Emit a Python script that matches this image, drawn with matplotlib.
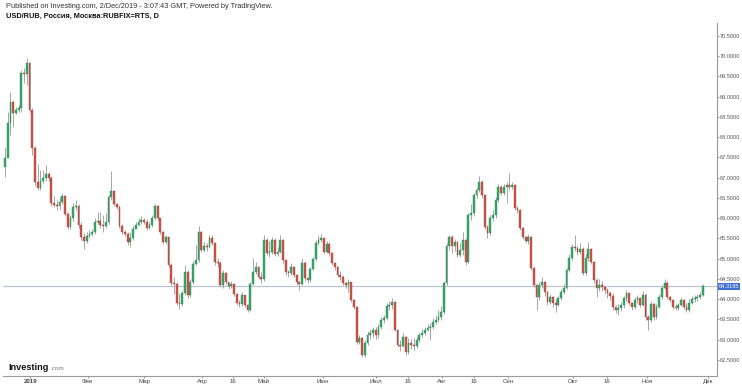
import matplotlib.pyplot as plt
import numpy as np

plt.rcParams['font.family'] = ['Liberation Sans', 'DejaVu Sans']

# USD/RUB daily candles (open = previous close)
first_open = 67.27
closes = [
    67.49, 68.35, 68.87, 68.60, 68.67, 68.72, 69.59, 69.56, 69.83, 68.67,
    67.73, 66.90, 66.75, 66.92, 66.99, 67.09, 66.99, 66.38, 66.33, 66.30,
    66.40, 66.55, 66.10, 65.78, 66.01, 66.28, 66.30, 65.83, 65.54, 65.44,
    65.56, 65.61, 65.66, 65.91, 65.93, 65.83, 65.81, 65.91, 66.52, 66.67,
    66.35, 66.28, 65.81, 65.66, 65.61, 65.41, 65.51, 65.73, 65.83, 65.91,
    65.96, 65.91, 65.76, 65.83, 66.01, 66.30, 66.01, 65.66, 65.41, 65.54,
    64.85, 64.40, 64.38, 63.91, 63.88, 64.15, 64.67, 64.11, 64.43, 64.87,
    64.97, 65.66, 65.22, 65.31, 65.29, 65.51, 65.39, 64.92, 64.90, 64.35,
    64.65, 64.43, 64.33, 64.38, 64.13, 63.91, 63.88, 64.11, 63.86, 63.73,
    64.38, 64.67, 64.80, 64.55, 64.50, 65.46, 65.14, 65.17, 65.46, 65.12,
    65.17, 65.46, 64.97, 64.67, 64.65, 64.80, 64.60, 64.43, 64.38, 64.90,
    64.52, 64.48, 64.75, 64.99, 65.39, 65.46, 65.51, 65.17, 65.36, 65.14,
    64.90, 64.80, 64.60, 64.55, 64.40, 64.35, 64.43, 63.98, 63.81, 62.94,
    63.04, 62.62, 62.92, 63.12, 63.17, 63.24, 63.12, 63.32, 63.49, 63.54,
    63.83, 63.86, 63.93, 63.24, 62.87, 62.85, 63.07, 62.70, 62.92, 62.87,
    62.85, 62.99, 63.12, 63.17, 63.24, 63.29, 63.32, 63.44, 63.49, 63.56,
    63.69, 64.40, 65.31, 65.54, 65.31, 65.41, 65.09, 65.22, 65.46, 64.92,
    66.08, 66.13, 66.57, 66.70, 66.90, 66.57, 65.78, 65.64, 66.01, 66.08,
    66.45, 66.77, 66.62, 66.77, 66.82, 66.77, 66.82, 66.25, 66.20, 65.76,
    65.54, 65.44, 65.54, 64.77, 64.35, 64.06, 64.35, 64.43, 64.18, 63.93,
    64.06, 63.91,
    63.86, 64.03, 64.18, 64.28, 64.72, 65.02, 65.29, 65.27, 65.17, 65.24,
    64.65, 65.02, 65.24, 64.92, 64.48, 64.28, 64.35, 64.30, 64.23, 64.15,
    64.08, 63.81, 63.73, 63.78, 63.86, 64.03, 64.15, 63.91, 63.81, 63.98,
    64.03, 63.86, 64.11, 63.56, 63.49, 63.88, 63.56, 63.81, 64.06, 64.28,
    64.40, 64.06, 63.98, 63.81, 63.78, 63.86, 63.98, 63.81, 63.73, 63.91,
    64.01, 64.03, 64.06, 64.11, 64.32,
]
highs = [
    67.76, 68.62, 69.12, 68.92, 68.75, 68.80, 69.66, 69.71, 69.96, 69.86,
    68.72, 67.78, 67.34, 67.19, 67.19, 67.31, 67.14, 67.04, 66.55, 66.45,
    66.52, 66.62, 66.57, 66.15, 66.08, 66.38, 66.45, 66.35, 65.91, 65.64,
    65.66, 65.71, 65.73, 66.01, 66.15, 66.15, 66.08, 66.13, 66.57, 67.17,
    66.70, 66.38, 66.33, 65.86, 65.71, 65.66, 65.66, 65.81, 65.91, 66.01,
    66.06, 66.01, 65.98, 65.91, 66.08, 66.35, 66.33, 66.01, 65.69, 65.59,
    65.56, 64.88, 64.55, 64.43, 64.13, 64.20, 64.85, 64.72, 64.50, 64.95,
    65.34, 65.81, 65.69, 65.41, 65.39, 65.59, 65.59, 65.41, 65.02, 64.95,
    64.72, 64.67, 64.43, 64.45, 64.40, 64.15, 63.98, 64.18, 64.11, 63.88,
    64.43, 65.02, 64.92, 64.82, 64.67, 65.59, 65.51, 65.44, 65.54, 65.51,
    65.29, 65.59, 65.49, 64.99, 64.72, 64.90, 64.82, 64.62, 64.45, 65.02,
    64.95, 64.55, 64.80, 65.04, 65.46, 65.59, 65.61, 65.51, 65.44, 65.41,
    65.17, 64.92, 64.82, 64.70, 64.60, 64.43, 64.50, 64.43, 64.01, 63.83,
    63.12, 63.07, 62.99, 63.20, 63.27, 63.32, 63.32, 63.39, 63.56, 63.61,
    63.91, 63.96, 64.03, 63.96, 63.27, 62.99, 63.17, 63.10, 63.04, 63.02,
    63.04, 63.07, 63.17, 63.27, 63.32, 63.39, 63.42, 63.54, 63.61, 63.73,
    63.83, 64.45, 65.39, 65.59, 65.59, 65.49, 65.44, 65.39, 65.66, 65.49,
    66.13, 66.35, 66.62, 66.75, 67.04, 66.95, 66.60, 65.83, 66.08, 66.20,
    66.52, 66.85, 66.82, 66.85, 66.90, 67.12, 66.90, 66.85, 66.30, 66.23,
    65.78, 65.56, 65.61, 65.56, 64.80, 64.38, 64.43, 64.55, 64.45, 64.20,
    64.13, 64.08,
    64.01, 64.08, 64.25, 64.38, 64.77, 65.12, 65.36, 65.59, 65.31, 65.39,
    65.29, 65.12, 65.41, 65.27, 64.95, 64.52, 64.50, 64.45, 64.33, 64.28,
    64.20, 64.15, 63.86, 63.88, 63.93, 64.08, 64.23, 64.15, 63.93, 64.06,
    64.11, 64.06, 64.20, 64.15, 63.61, 63.96, 63.91, 63.88, 64.13, 64.35,
    64.50, 64.45, 64.08, 64.01, 63.88, 63.91, 64.06, 64.01, 63.91, 64.01,
    64.08, 64.11, 64.13, 64.18, 64.38,
]
lows = [
    67.02, 67.93, 68.06, 68.25, 68.57, 68.62, 68.62, 69.34, 69.29, 68.62,
    67.56, 66.80, 66.70, 66.70, 66.87, 66.92, 66.92, 66.30, 66.28, 66.20,
    66.20, 66.35, 66.06, 65.73, 65.73, 65.93, 66.20, 65.76, 65.46, 65.24,
    65.39, 65.51, 65.56, 65.61, 65.86, 65.76, 65.66, 65.76, 65.86, 66.45,
    66.30, 66.23, 65.76, 65.61, 65.56, 65.34, 65.29, 65.46, 65.78, 65.81,
    65.86, 65.86, 65.71, 65.73, 65.78, 65.96, 65.96, 65.61, 65.36, 65.36,
    64.80, 64.35, 64.13, 63.86, 63.76, 63.83, 64.10, 64.03, 64.06, 64.38,
    64.85, 64.92, 65.17, 65.17, 65.19, 65.27, 65.34, 64.85, 64.80, 64.30,
    64.28, 64.38, 64.25, 64.28, 64.08, 63.86, 63.81, 63.83, 63.81, 63.69,
    63.71, 64.35, 64.62, 64.50, 64.40, 64.45, 65.09, 65.04, 65.12, 65.07,
    65.07, 65.14, 64.87, 64.60, 64.55, 64.60, 64.55, 64.35, 64.23, 64.35,
    64.45, 64.40, 64.43, 64.72, 64.95, 65.34, 65.41, 65.12, 65.14, 65.07,
    64.85, 64.72, 64.55, 64.48, 64.35, 64.28, 64.18, 63.93, 63.76, 62.89,
    62.89, 62.57, 62.57, 62.87, 63.02, 63.07, 63.02, 63.04, 63.27, 63.42,
    63.49, 63.73, 63.76, 63.20, 62.82, 62.72, 62.82, 62.62, 62.65, 62.77,
    62.75, 62.80, 62.94, 63.07, 63.12, 63.20, 62.99, 63.27, 63.39, 63.44,
    63.49, 63.64, 64.35, 65.22, 65.14, 65.19, 65.04, 65.04, 65.09, 64.85,
    64.90, 65.96, 66.06, 66.50, 66.65, 66.50, 65.73, 65.51, 65.59, 65.93,
    66.01, 66.40, 66.57, 66.57, 66.38, 66.70, 66.72, 66.20, 66.13, 65.71,
    65.49, 65.39, 65.36, 64.72, 64.30, 63.73, 63.98, 64.28, 64.08, 63.86,
    63.88, 63.81,
    63.69, 63.83, 63.98, 64.13, 64.25, 64.67, 64.97, 65.19, 65.09, 65.12,
    64.60, 64.60, 64.95, 64.87, 64.40, 64.06, 64.20, 64.20, 64.13, 64.03,
    63.98, 63.73, 63.66, 63.61, 63.71, 63.78, 63.96, 63.86, 63.73, 63.76,
    63.91, 63.81, 63.83, 63.49, 63.24, 63.44, 63.49, 63.51, 63.78, 64.01,
    64.25, 64.01, 63.93, 63.76, 63.73, 63.73, 63.83, 63.76, 63.69, 63.69,
    63.88, 63.93, 63.96, 64.01, 64.08,
]
last_price = 64.3195

# x axis labels (positions in candle index units)
tick_pos = [9.3, 30.3, 51, 72.3, 83.6, 95, 116.5, 136, 148, 160.3, 172, 184.7, 208.3, 221, 235.7, 257.8]
tick_labels = ['2019', 'Фев', 'Мар', 'Апр', '16', 'Май', 'Июн', 'Июл', '16', 'Авг', '16', 'Сен',
               'Окт', '16', 'Ноя', 'Дек']
y_ticks = [62.5, 63.0, 63.5, 64.0, 64.5, 65.0, 65.5, 66.0, 66.5, 67.0, 67.5, 68.0, 68.5, 69.0, 69.5, 70.0, 70.5]

W, H = 742, 386
fig = plt.figure(figsize=(W / 100, H / 100), dpi=100)
ax = fig.add_axes([3 / W, (H - 376) / H, (717 - 3) / W, (376 - 23) / H])

c = np.array(closes)
o = np.array([first_open] + closes[:-1])
hi = np.array(highs)
lo = np.array(lows)
idx = np.arange(len(c))
up = c >= o

green, red = '#3aa86b', '#c8564a'
ax.axhline(last_price, color='#bcc3d0', lw=0.9, zorder=1)
ax.vlines(idx, lo, hi, color='#a6a6a6', lw=0.7, zorder=2)
bottom = np.minimum(o, c)
height = np.maximum(np.abs(c - o), 0.02)
ax.bar(idx[up], height[up], bottom=bottom[up], width=0.66, color=green,
       edgecolor='#2b8a55', lw=0.3, zorder=3)
ax.bar(idx[~up], height[~up], bottom=bottom[~up], width=0.66, color=red,
       edgecolor='#a8443a', lw=0.3, zorder=3)

ax.set_xlim(-0.73, 261.2)
ax.set_ylim(62.10, 70.82)

for s in ['top', 'left']:
    ax.spines[s].set_visible(False)
for s in ['bottom', 'right']:
    ax.spines[s].set_color('#9a9a9a')
    ax.spines[s].set_linewidth(0.8)

ax.set_xticks(tick_pos)
ax.set_xticklabels(tick_labels)
ax.get_xticklabels()[0].set_fontweight('bold')
ax.yaxis.tick_right()
ax.set_yticks(y_ticks)
ax.set_yticklabels([f'{v:.4f}' for v in y_ticks])
ax.tick_params(axis='x', length=1.5, color='#9a9a9a', labelsize=4.4, labelcolor='#444444', pad=0.8)
ax.tick_params(axis='y', length=1.2, color='#9a9a9a', labelsize=4.1, labelcolor='#555555', pad=0.8)

ax.annotate(f'{last_price:.4f}', xy=(1.0, last_price), xycoords=('axes fraction', 'data'),
            xytext=(1.5, 0), textcoords='offset points', va='center', ha='left',
            fontsize=4.1, color='white',
            bbox=dict(boxstyle='square,pad=0.15', facecolor='#3f6fd0', edgecolor='none'))

fig.text(6 / W, 1 - 6 / H, 'Published on Investing.com, 2/Dec/2019 - 3:07:43 GMT, Powered by TradingView.',
         fontsize=5.3, color='#333333', va='center', ha='left')
fig.text(6 / W, 1 - 16 / H, 'USD/RUB, Россия, Москва:RUBFIX=RTS, D',
         fontsize=5.3, color='#111111', fontweight='bold', va='center', ha='left')

fig.text(8 / W, 1 - 367 / H, 'Investing', fontsize=6.6, fontweight='bold',
         color='#111111', va='center', ha='left')
fig.text(50 / W, 1 - 368 / H, '.com', fontsize=4.6, color='#777777', va='center', ha='left')

fig.savefig('out.png', dpi=100)
